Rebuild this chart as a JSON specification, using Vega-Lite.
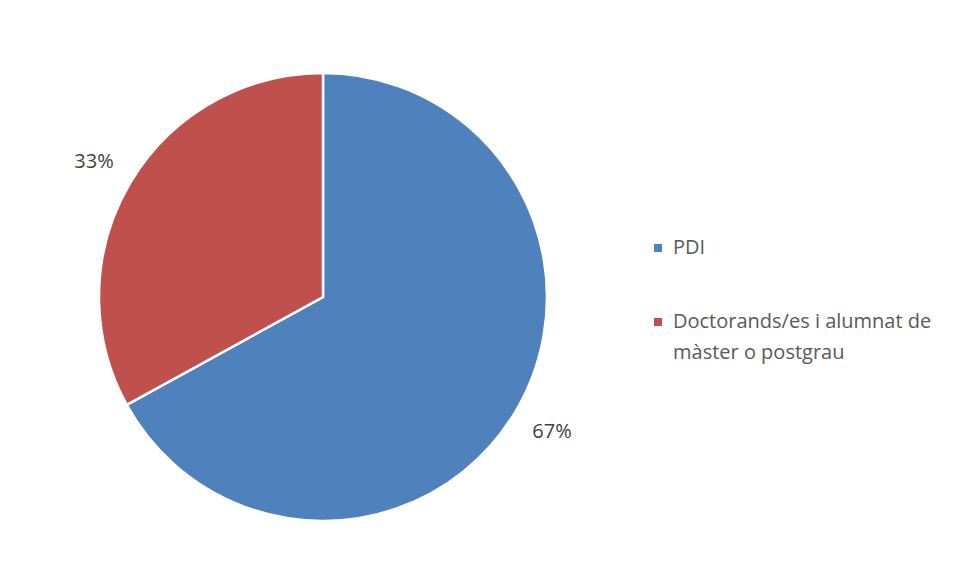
{
  "$schema": "https://vega.github.io/schema/vega-lite/v6.json",
  "autosize": {"type": "none"},
  "width": 448,
  "height": 448,
  "padding": {"left": 99, "top": 73, "right": 409, "bottom": 64},
  "background": "white",
  "config": {"view": {"stroke": null}, "font": "Open Sans", "style": {"guide-label": {"lineHeight": 31}}},
  "data": {"values": [
    {"grup": "PDI", "valor": 67, "etiqueta": "67%"},
    {"grup": "Doctorands/es i alumnat de màster o postgrau", "valor": 33, "etiqueta": "33%"}
  ]},
  "encoding": {
    "theta": {"field": "valor", "type": "quantitative", "stack": true},
    "color": {
      "field": "grup", "type": "nominal",
      "sort": ["PDI", "Doctorands/es i alumnat de màster o postgrau"],
      "scale": {"domain": ["PDI", "Doctorands/es i alumnat de màster o postgrau"], "range": ["#4F81BD", "#C0504D"]},
      "legend": {
        "title": null, "orient": "none", "legendX": 549, "legendY": 165,
        "symbolType": "square", "symbolSize": 64, "symbolStrokeWidth": 0,
        "labelFont": "Open Sans", "labelFontSize": 20, "labelColor": "#595959",
        "labelLimit": 400, "rowPadding": 54, "labelOffset": 5,
        "labelExpr": "datum.label == 'PDI' ? 'PDI' : ['Doctorands/es i alumnat de', 'màster o postgrau']"
      }
    },
    "order": {"field": "valor", "type": "quantitative", "sort": "descending"}
  },
  "layer": [
    {"mark": {"type": "arc", "outerRadius": 224, "stroke": "white", "strokeWidth": 2.5}},
    {"mark": {"type": "text", "radius": 266, "fontSize": 20, "font": "Open Sans", "color": "#404040"},
     "encoding": {"text": {"field": "etiqueta"}, "color": {"value": "#404040"}}}
  ]
}
